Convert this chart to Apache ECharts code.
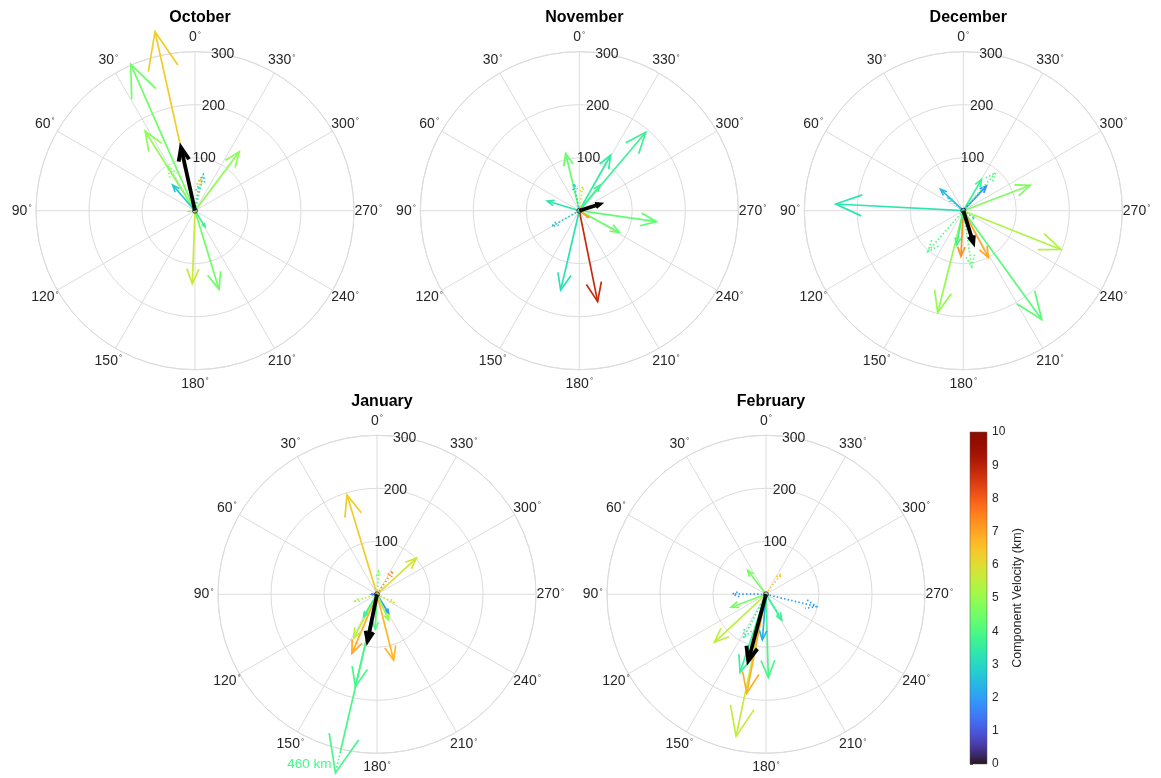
<!DOCTYPE html>
<html><head><meta charset="utf-8">
<script src="https://cdn.jsdelivr.net/npm/echarts@6/dist/echarts.min.js"></script>
<style>html,body{margin:0;padding:0;background:#fff}#chart{width:1161px;height:778px}</style>
</head><body><div id="chart"></div>
<script>
// ---------------- data ----------------
const monthNames = ['October', 'November', 'December', 'January', 'February'];
const angleTicks = [0, 30, 60, 90, 120, 150, 180, 210, 240, 270, 300, 330];
const radiusTicks = [100, 200, 300];
const velTicks = [0, 1, 2, 3, 4, 5, 6, 7, 8, 9, 10];

// magnitude (km), direction (deg, counter-clockwise from north), component velocity, line style
const octMag = [346, 302, 177, 139, 98, 64, 70, 62, 48, 138, 155, 36, 12];
const octDir = [12.6, 23.7, 32.1, 323.1, 31.5, 41, 347, 350, 352, 177.9, 197, 212, 95];
const octVel = [6.3, 4.5, 4.9, 4.9, 4.7, 2.7, 2.8, 6.4, 3.5, 5.7, 4.5, 3.7, 5.0];
const octStyle = ['-', '-', '-', '-', ':', '-', ':', ':', ':', '-', '-', '-', ':'];

const novMag = [175, 154, 147, 86, 194, 120, 62, 111, 63, 59, 51, 46, 21];
const novDir = [191.4, 166.8, 261.9, 241.6, 319.7, 330.6, 321, 13.4, 73.2, 119.6, 11.3, 352, 234];
const novVel = [8.8, 3.2, 4.3, 4.4, 3.7, 3.5, 3.8, 4.4, 3.3, 2.6, 2.8, 5.8, 7.0];
const novStyle = ['-', '-', '-', '-', '-', '-', '-', '-', '-', ':', ':', ':', '-'];

const decMag = [241, 253, 198, 198, 135, 100, 86, 68, 64, 59, 94, 102, 107, 27, 66, 37];
const decDir = [87, 215.8, 248.3, 165.9, 290.8, 208.2, 177, 329.7, 317, 46.7, 319.6, 139, 188.5, 234, 169, 50];
const decVel = [3.3, 4.2, 5.3, 5.0, 4.7, 6.9, 7.3, 3.7, 1.8, 2.4, 4.0, 4.0, 4.2, 3.3, 3.8, 3.0];
const decStyle = ['-', '-', '-', '-', '-', '-', '-', '-', '-', '-', ':', ':', ':', ':', '-', ':'];

const janMag = [196, 460, 101, 53, 43, 128, 121, 94, 179, 49, 66, 42, 35, 43, 53, 10];
const janDir = [16.8, 166.9, 312.5, 325.5, 356, 194.2, 157, 152, 166.8, 149, 177, 211.4, 244.3, 107, 204.3, 90];
const janVel = [6.3, 3.9, 5.8, 7.3, 4.6, 6.7, 6.9, 5.5, 3.9, 3.7, 4.1, 2.0, 5.8, 5.3, 5.0, 1.5];
const janStyle = ['-', '-', '-', ':', ':', '-', '-', '-', '-', '-', '-', '-', ':', ':', '-', '-'];

const febMag = [274, 190, 155, 157, 133, 70, 57, 63, 98, 48, 54, 57, 93, 86];
const febDir = [168.1, 169, 161.6, 181.6, 132.9, 110.4, 37.4, 89.4, 256.3, 323.6, 213.2, 211.4, 152.7, 175.4];
const febVel = [5.6, 6.8, 3.6, 3.9, 5.5, 4.6, 4.6, 1.9, 2.0, 6.4, 3.5, 3.7, 3.5, 2.3];
const febStyle = ['-', '-', '-', '-', '-', '-', '-', ':', ':', ':', ':', '-', ':', '-'];

// mean vectors (black)
const meanMag = [122, 40, 63, 90, 130];
const meanDir = [12.5, 287.7, 197.4, 168.6, 165.1];

// ---------------- layout / style ----------------
const FONT = "'Liberation Sans', Arial, Helvetica, sans-serif";
const CENTERS = [[195, 210.7], [579.3, 210.7], [963.3, 210.7], [377, 594.3], [766, 594.3]];
const RADIUS = 159;
const CAP = 346;       // longest drawn length before truncation
const BREAK = 305;     // truncated arrows turn dotted beyond this
const HEAD = 0.22;     // head length relative to arrow length
const HEAD_ANG = 22 * Math.PI / 180;
const LABEL_R = 327;
const RLABEL_ANG = 350;
const GRID_COLOR = '#dcdcdc';
const TEXT_COLOR = '#262626';
const LW = 1.7;

function turbo(t) {
  t = Math.max(0, Math.min(1, t));
  const t2 = t * t, t3 = t2 * t, t4 = t3 * t, t5 = t4 * t;
  const r = 0.13572138 + 4.61539260 * t - 42.66032258 * t2 + 132.13108234 * t3 - 152.94239396 * t4 + 59.28637943 * t5;
  const g = 0.09140261 + 2.19418839 * t + 4.84296658 * t2 - 14.18503333 * t3 + 4.27729857 * t4 + 2.82956604 * t5;
  const b = 0.10667330 + 12.64194608 * t - 60.58204836 * t2 + 110.36276771 * t3 - 89.90310912 * t4 + 27.34824973 * t5;
  const f = v => Math.round(255 * Math.max(0, Math.min(1, v)));
  return 'rgb(' + f(r) + ',' + f(g) + ',' + f(b) + ')';
}
const velColor = v => turbo(v / 10);

function headPts(c, tip) {
  const L = Math.hypot(tip[0] - c[0], tip[1] - c[1]) || 1;
  const ux = (c[0] - tip[0]) / L, uy = (c[1] - tip[1]) / L;
  const h = HEAD * L, ca = Math.cos(HEAD_ANG), sa = Math.sin(HEAD_ANG);
  const w1 = [tip[0] + h * (ux * ca - uy * sa), tip[1] + h * (ux * sa + uy * ca)];
  const w2 = [tip[0] + h * (ux * ca + uy * sa), tip[1] + h * (-ux * sa + uy * ca)];
  return [w1, tip, w2];
}

function line(points, color, width, dotted) {
  return {
    type: 'polyline', shape: { points: points },
    style: { stroke: color, fill: null, lineWidth: width, lineDash: dotted ? [1.5, 2.2] : null, lineCap: 'butt', lineJoin: 'miter' }
  };
}

function renderArrow(params, api) {
  const mag = api.value(0), dir = api.value(1), vel = api.value(2), dotted = api.value(3) === 1;
  const color = velColor(vel);
  const c = api.coord([0, dir]);
  const drawn = Math.min(mag, CAP);
  const tip = api.coord([drawn, dir]);
  const children = [];
  if (mag > CAP) {
    const b = api.coord([BREAK, dir]);
    children.push(line([c, b], color, LW, false));
    children.push(line([b, tip], color, LW, true));
    children.push(line(headPts(c, tip), color, LW, false));
    children.push({
      type: 'text',
      style: { text: mag + ' km', x: tip[0] - 4, y: tip[1] - 9, align: 'right', verticalAlign: 'middle', fill: color, font: '13.5px ' + FONT }
    });
  } else {
    children.push(line([c, tip], color, LW, dotted));
    children.push(line(headPts(c, tip), color, LW, dotted));
  }
  return { type: 'group', children: children };
}

function renderMean(params, api) {
  const mag = api.value(0), dir = api.value(1);
  const c = api.coord([0, dir]);
  const tip = api.coord([mag, dir]);
  return { type: 'group', children: [line([c, tip], '#000', 3.8, false), line(headPts(c, tip), '#000', 3.8, false)] };
}

function renderAngleLabel(params, api) {
  const p = api.coord([api.value(0), api.value(1)]);
  return {
    type: 'text',
    style: {
      text: '{n|' + api.value(1) + '}{d|°}', x: p[0], y: p[1], align: 'center', verticalAlign: 'middle',
      rich: { n: { fontSize: 14, fontFamily: FONT, fill: TEXT_COLOR, color: TEXT_COLOR }, d: { fontSize: 8, fontFamily: FONT, verticalAlign: 'top', fill: TEXT_COLOR, color: TEXT_COLOR, padding: [0, 0, 6, 1] } }
    }
  };
}

function renderRadiusLabel(params, api) {
  const p = api.coord([api.value(0), api.value(1)]);
  return {
    type: 'text',
    style: { text: String(api.value(0)), x: p[0], y: p[1], align: 'center', verticalAlign: 'middle', fill: TEXT_COLOR, font: '14px ' + FONT }
  };
}

const monthData = [
  [octMag, octDir, octVel, octStyle],
  [novMag, novDir, novVel, novStyle],
  [decMag, decDir, decVel, decStyle],
  [janMag, janDir, janVel, janStyle],
  [febMag, febDir, febVel, febStyle]
];

const series = [];
monthData.forEach((m, i) => {
  const [mag, dir, vel, sty] = m;
  series.push({
    type: 'custom', coordinateSystem: 'polar', polarIndex: i, silent: true, z: 2,
    dimensions: ['r', 'a'], encode: { radius: 0, angle: 1 },
    data: angleTicks.map(a => [LABEL_R, a]), renderItem: renderAngleLabel
  });
  series.push({
    type: 'custom', coordinateSystem: 'polar', polarIndex: i, silent: true, z: 2,
    dimensions: ['r', 'a'], encode: { radius: 0, angle: 1 },
    data: radiusTicks.map(r => [r, RLABEL_ANG]), renderItem: renderRadiusLabel
  });
  series.push({
    type: 'custom', coordinateSystem: 'polar', polarIndex: i, silent: true, z: 3,
    dimensions: ['r', 'a', 'v', 'dot'], encode: { radius: 0, angle: 1 },
    data: mag.map((r, k) => [r, dir[k], vel[k], sty[k] === ':' ? 1 : 0]), renderItem: renderArrow
  });
  series.push({
    type: 'custom', coordinateSystem: 'polar', polarIndex: i, silent: true, z: 4,
    dimensions: ['r', 'a'], encode: { radius: 0, angle: 1 },
    data: [[meanMag[i], meanDir[i]]], renderItem: renderMean
  });
  series.push({
    type: 'scatter', coordinateSystem: 'polar', polarIndex: i, silent: true, z: 5,
    symbol: 'circle', symbolSize: 5, data: [[0, 0]],
    itemStyle: { color: 'rgba(0,0,0,0)', borderColor: '#222', borderWidth: 1 }
  });
});

// colorbar gradient
const stops = [];
for (let k = 0; k <= 40; k++) stops.push({ offset: k / 40, color: turbo(k / 40) });
series.push({
  type: 'custom', coordinateSystem: 'cartesian2d', xAxisIndex: 0, yAxisIndex: 0, silent: true,
  data: [[0, 0]],
  renderItem: function (params, api) {
    const p0 = api.coord([0, velTicks[0]]);
    const p1 = api.coord([1, velTicks[velTicks.length - 1]]);
    return {
      type: 'rect',
      shape: { x: p0[0], y: p1[1], width: p1[0] - p0[0], height: p0[1] - p1[1] },
      style: { fill: { type: 'linear', x: 0, y: 1, x2: 0, y2: 0, global: false, colorStops: stops }, stroke: '#555', lineWidth: 0.5 }
    };
  }
});

const option = {
  backgroundColor: '#ffffff',
  animation: false,
  textStyle: { fontFamily: FONT },
  title: monthNames.map((t, i) => ({
    text: t, left: CENTERS[i][0], top: CENTERS[i][1] - 206, textAlign: 'center',
    textStyle: { fontSize: 16, fontWeight: 'bold', color: '#000', fontFamily: FONT }
  })),
  polar: CENTERS.map(c => ({ center: c, radius: RADIUS })),
  angleAxis: CENTERS.map((c, i) => ({
    polarIndex: i, type: 'value', min: 0, max: 360, interval: 30, startAngle: 90, clockwise: false,
    axisLine: { show: true, lineStyle: { color: GRID_COLOR, width: 1 } },
    axisTick: { show: false }, axisLabel: { show: false },
    splitLine: { show: true, lineStyle: { color: GRID_COLOR, width: 1 } }
  })),
  radiusAxis: CENTERS.map((c, i) => ({
    polarIndex: i, type: 'value', min: 0, max: 300, interval: 100,
    axisLine: { show: false }, axisTick: { show: false }, axisLabel: { show: false },
    splitLine: { show: true, lineStyle: { color: GRID_COLOR, width: 1 } }
  })),
  grid: [{ left: 970, top: 432, width: 17, height: 332 }],
  xAxis: [{ type: 'value', gridIndex: 0, min: 0, max: 1, show: false }],
  yAxis: [{
    type: 'value', gridIndex: 0, min: 0, max: 10, interval: 1, position: 'right',
    axisLine: { show: false },
    axisTick: { show: true, inside: false, length: 3, lineStyle: { color: TEXT_COLOR, width: 0.8 } },
    axisLabel: { color: TEXT_COLOR, fontSize: 12, margin: 5, fontFamily: FONT },
    splitLine: { show: false },
    name: 'Component Velocity (km)', nameLocation: 'middle', nameRotate: 90, nameGap: 24,
    nameTextStyle: { fontSize: 12.5, color: TEXT_COLOR, fontFamily: FONT }
  }],
  series: series
};

const chart = echarts.init(document.getElementById('chart'), null, { renderer: 'canvas' });
chart.setOption(option);
</script>
</body></html>
